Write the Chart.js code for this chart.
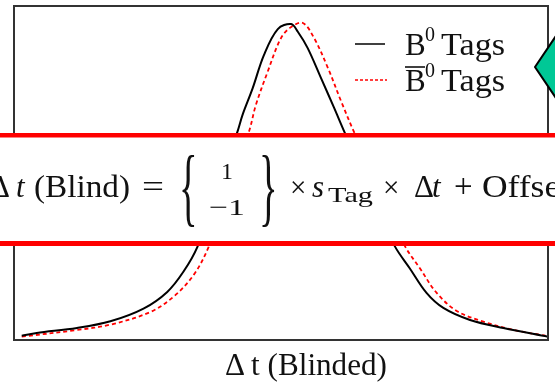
<!DOCTYPE html>
<html>
<head>
<meta charset="utf-8">
<script src="https://cdn.jsdelivr.net/npm/chart.js@4"></script>
<style>
  body { margin: 0; background: #fff; }
  #wrap { position: relative; width: 555px; height: 383px; overflow: hidden; }
  #wrap canvas, #wrap svg { position: absolute; left: 0; top: 0; }
  svg text { font-family: "Liberation Serif", "Times New Roman", serif; fill: #111; }
</style>
</head>
<body>
<div id="wrap">
  <canvas id="dtChart" width="555" height="383"></canvas>
  <svg width="555" height="383" viewBox="0 0 555 383">
    <!-- legend -->
    <line x1="355" y1="44" x2="385" y2="44" stroke="#000" stroke-width="1.5"/>
    <line x1="355" y1="80" x2="387" y2="80" stroke="#f00" stroke-width="1.5" stroke-dasharray="3,2"/>
    <text x="405" y="55" font-size="31">B</text>
    <text x="425" y="41" font-size="20">0</text>
    <text x="441" y="55" font-size="31" textLength="64" lengthAdjust="spacingAndGlyphs">Tags</text>
    <line x1="405" y1="67" x2="425" y2="67" stroke="#111" stroke-width="1.6"/>
    <text x="405" y="91" font-size="31">B</text>
    <text x="425" y="77" font-size="20">0</text>
    <text x="441" y="91" font-size="31" textLength="64" lengthAdjust="spacingAndGlyphs">Tags</text>

    <!-- green arrow tip on the right -->
    <polygon points="535,67 560,30 585,67 560,104" fill="#00c896" stroke="#000" stroke-width="2"/>

    <!-- blinding formula band -->
    <rect x="-10" y="135" width="580" height="109" fill="#fff"/>
    <rect x="-10" y="133" width="580" height="4.5" fill="#f00"/>
    <rect x="-10" y="241" width="580" height="5" fill="#f00"/>
    <text x="-10" y="197" font-size="31">Δ</text>
    <text x="16" y="197" font-size="31" font-style="italic">t</text>
    <text x="34" y="197" font-size="31" textLength="96" lengthAdjust="spacingAndGlyphs">(Blind)</text>
    <text x="142" y="197" font-size="31" textLength="22" lengthAdjust="spacingAndGlyphs">=</text>
    <text transform="translate(179,215) scale(0.45,1)" font-size="86">{</text>
    <text x="221" y="179" font-size="24">1</text>
    <text x="209" y="215" font-size="24" textLength="36" lengthAdjust="spacingAndGlyphs">−1</text>
    <text transform="translate(259,215) scale(0.45,1)" font-size="86">}</text>
    <text x="290" y="197" font-size="29">×</text>
    <text x="312" y="197" font-size="31" font-style="italic">s</text>
    <text x="328" y="202" font-size="22" textLength="45" lengthAdjust="spacingAndGlyphs">Tag</text>
    <text x="383" y="197" font-size="29">×</text>
    <text x="414" y="197" font-size="31">Δ</text>
    <text x="432" y="197" font-size="31" font-style="italic">t</text>
    <text x="454" y="197" font-size="33">+</text>
    <text x="482" y="197" font-size="31" textLength="88" lengthAdjust="spacingAndGlyphs">Offset</text>

    <!-- x axis title -->
    <text x="225" y="375" font-size="31" textLength="162" lengthAdjust="spacingAndGlyphs">Δ t (Blinded)</text>
  </svg>
</div>
<script>
// Delta-t distributions for the two flavour tags (peak-normalised)
const bTagT = [-9.71, -9.15, -7.64, -6.39, -5.15, -4.26, -3.65, -3.13, -2.6, -2.1, -1.63, -1.44, -1.06, -0.64, -0.12, 0.38, 0.63, 1.0, 1.5, 1.99, 2.37, 2.9, 3.5, 4.26, 4.82, 5.45, 6.08, 7.08, 8.33, 10.0];
const bTagN = [0.013, 0.021, 0.036, 0.056, 0.094, 0.144, 0.205, 0.279, 0.40, 0.52, 0.624, 0.674, 0.754, 0.853, 0.931, 0.946, 0.923, 0.874, 0.784, 0.695, 0.624, 0.53, 0.41, 0.281, 0.215, 0.141, 0.096, 0.060, 0.036, 0.010];

const bbarTagT = [-9.71, -7.64, -6.39, -4.89, -4.02, -3.27, -2.71, -2.2, -1.7, -1.2, -0.94, -0.5, 0.0, 0.38, 0.82, 1.24, 1.76, 2.26, 2.7, 3.25, 3.85, 4.64, 5.2, 5.83, 6.58, 7.58, 8.83, 9.9];
const bbarTagN = [0.010, 0.030, 0.046, 0.084, 0.130, 0.195, 0.279, 0.40, 0.52, 0.624, 0.704, 0.803, 0.904, 0.937, 0.949, 0.904, 0.814, 0.713, 0.629, 0.53, 0.41, 0.281, 0.215, 0.141, 0.087, 0.055, 0.028, 0.013];

const toPoints = (xs, ys) => xs.map((x, i) => ({ x: x, y: ys[i] }));

// plain box around the plot area
const frameBox = {
    id: "frameBox",
    afterDraw(chart) {
        const { ctx, chartArea: a } = chart;
        ctx.save();
        ctx.strokeStyle = "#333";
        ctx.lineWidth = 2;
        ctx.strokeRect(a.left, a.top, a.right - a.left, a.bottom - a.top);
        ctx.restore();
    },
};

const ctx = document.getElementById("dtChart").getContext("2d");
new Chart(ctx, {
    type: "line",
    data: {
        datasets: [
            {
                label: "B0 Tags",
                data: toPoints(bTagT, bTagN),
                borderColor: "#000",
                borderWidth: 2,
                tension: 0.35,
                pointRadius: 0,
            },
            {
                label: "B0bar Tags",
                data: toPoints(bbarTagT, bbarTagN),
                borderColor: "#f00",
                borderWidth: 1.8,
                borderDash: [4, 3],
                tension: 0.35,
                pointRadius: 0,
            },
        ],
    },
    options: {
        responsive: false,
        animation: false,
        layout: { padding: { left: 14, top: 6, right: 7, bottom: 43 } },
        plugins: { legend: { display: false }, tooltip: { enabled: false } },
        scales: {
            x: { type: "linear", min: -10, max: 10, display: false },
            y: { min: 0, max: 1, display: false },
        },
    },
    plugins: [frameBox],
});
</script>
</body>
</html>
